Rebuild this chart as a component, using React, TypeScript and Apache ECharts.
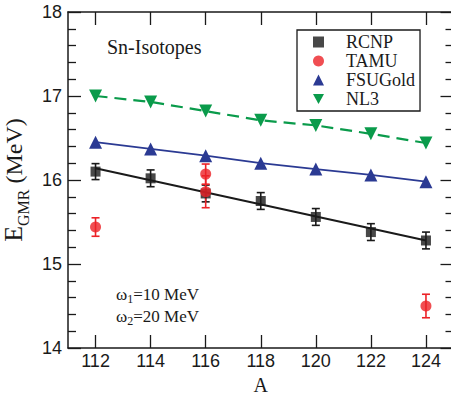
import React, { useEffect, useRef } from "react";
import * as echarts from "echarts";

const massNumbers = [112, 114, 116, 118, 120, 122, 124];
const rcnp = [16.1, 16.02, 15.84, 15.75, 15.56, 15.38, 15.28];
const rcnpErr = [0.095, 0.1, 0.1, 0.1, 0.1, 0.1, 0.1];
const rcnpFitA = [112, 124];
const rcnpFit = [16.14, 15.28];
const tamuA = [112, 116, 116, 124];
const tamu = [15.44, 16.07, 15.86, 14.5];
const tamuErr = [0.11, 0.12, 0.19, 0.14];
const fsuGold = [16.45, 16.37, 16.29, 16.2, 16.13, 16.06, 15.98];
const nl3 = [17.0, 16.93, 16.82, 16.71, 16.65, 16.55, 16.44];
const xTicks = [112, 114, 116, 118, 120, 122, 124];

const SERIF = "Liberation Serif";
const SANS = "Liberation Sans";
const BLACK = "#1a1a1a";
const RED = "#ec2227";
const BLUE = "#2b3a93";
const GREEN = "#0a9b4b";

function errorBarSeries(xs: number[], ys: number[], es: number[], color: string) {
  return {
    type: "custom",
    z: 1,
    silent: true,
    data: xs.map((x, i) => [x, ys[i], es[i]]),
    renderItem: (_p: any, api: any) => {
      const x = api.value(0);
      const y = api.value(1);
      const e = api.value(2);
      const t = api.coord([x, y + e]);
      const b = api.coord([x, y - e]);
      const hw = 4;
      const style = { stroke: color, lineWidth: 1.6 };
      return {
        type: "group",
        children: [
          { type: "line", shape: { x1: t[0], y1: t[1], x2: b[0], y2: b[1] }, style },
          { type: "line", shape: { x1: t[0] - hw, y1: t[1], x2: t[0] + hw, y2: t[1] }, style },
          { type: "line", shape: { x1: b[0] - hw, y1: b[1], x2: b[0] + hw, y2: b[1] }, style },
        ],
      };
    },
  };
}

export default function App() {
  const ref = useRef<HTMLDivElement>(null);
  useEffect(() => {
    if (!ref.current) return;
    const chart = echarts.init(ref.current, undefined, { renderer: "svg" });
    const axisLine = { show: true, lineStyle: { color: BLACK, width: 1.5 } };
    const tickStyle = { color: BLACK, width: 1.3 };
    const xBase = {
      type: "value",
      min: 111,
      max: 125,
      splitLine: { show: false },
      axisLine,
    };
    const yBase = {
      type: "value",
      min: 14,
      max: 18,
      interval: 1,
      splitLine: { show: false },
      axisLine,
      axisTick: { show: true, inside: true, length: 13, lineStyle: tickStyle },
      minorTick: { show: true, splitNumber: 5, length: 8, lineStyle: tickStyle },
    };
    chart.setOption({
      animation: false,
      backgroundColor: "#fff",
      grid: { left: 68, top: 12, right: 1.5, bottom: 46, containLabel: false, outerBoundsMode: "none" },
      legend: {
        orient: "vertical",
        left: 297,
        top: 30,
        padding: [3, 5, 3, 16],
        itemGap: 1,
        itemWidth: 11,
        itemHeight: 11,
        borderColor: BLACK,
        borderWidth: 1.3,
        formatter: "{t|{name}}",
        textStyle: {
          fontFamily: SERIF,
          fontSize: 18,
          lineHeight: 17,
          color: BLACK,
          rich: { t: { fontFamily: SERIF, fontSize: 18, lineHeight: 17, color: BLACK, padding: [0, 0, 0, 17] } },
        },
        data: [
          { name: "RCNP", icon: "rect" },
          { name: "TAMU", icon: "circle" },
          { name: "FSUGold", icon: "triangle" },
          { name: "NL3", icon: "path://M0,0 L10,0 L5,9 Z" },
        ],
      },
      xAxis: [
        {
          ...xBase,
          position: "bottom",
          name: "A",
          nameLocation: "middle",
          nameGap: 23,
          nameTextStyle: { fontFamily: SERIF, fontSize: 20, lineHeight: 16, color: BLACK },
          axisTick: { show: true, inside: true, length: 13, lineStyle: tickStyle, customValues: xTicks },
          axisLabel: { show: true, customValues: xTicks, fontFamily: SANS, fontSize: 18, color: BLACK, margin: 4 },
        },
        {
          ...xBase,
          position: "top",
          axisTick: { show: true, inside: true, length: 13, lineStyle: tickStyle, customValues: xTicks },
          axisLabel: { show: false },
        },
      ],
      yAxis: [
        {
          ...yBase,
          position: "left",
          name: "{e|E}{s|GMR}{n| (MeV)}",
          nameLocation: "middle",
          nameGap: 36,
          nameRotate: 90,
          nameTextStyle: {
            fontFamily: SERIF,
            color: BLACK,
            rich: {
              e: { fontFamily: SERIF, fontSize: 26, color: BLACK, verticalAlign: "top", lineHeight: 30 },
              s: { fontFamily: SERIF, fontSize: 16, color: BLACK, verticalAlign: "top", padding: [15, 0, 0, 0] },
              n: { fontFamily: SERIF, fontSize: 24, color: BLACK, verticalAlign: "top", padding: [2, 0, 0, 0] },
            },
          },
          axisLabel: { show: true, fontFamily: SANS, fontSize: 18, color: BLACK, margin: 6 },
        },
        {
          ...yBase,
          position: "right",
          axisLabel: { show: false },
        },
      ],
      graphic: [
        {
          type: "text",
          left: 107,
          top: 37,
          style: {
            text: "{t|Sn-Isotopes}",
            fontFamily: SERIF,
            fontSize: 20,
            fill: BLACK,
            rich: { t: { fontFamily: SERIF, fontSize: 20, fill: BLACK } },
          },
        },
        {
          type: "text",
          left: 116,
          top: 283,
          style: {
            text: "ω{s|1}=10 MeV\nω{s|2}=20 MeV",
            fontFamily: SERIF,
            fontSize: 17,
            lineHeight: 22,
            fill: BLACK,
            rich: { s: { fontFamily: SERIF, fontSize: 12, fill: BLACK, padding: [9, 0, 0, 0] } },
          },
        },
      ],
      series: [
        errorBarSeries(massNumbers, rcnp, rcnpErr, BLACK),
        errorBarSeries(tamuA, tamu, tamuErr, RED),
        {
          name: "RCNP fit",
          type: "line",
          data: rcnpFitA.map((a, i) => [a, rcnpFit[i]]),
          showSymbol: false,
          lineStyle: { color: BLACK, width: 2 },
          z: 2,
          silent: true,
        },
        {
          name: "FSUGold",
          type: "line",
          data: massNumbers.map((a, i) => [a, fsuGold[i]]),
          symbol: "triangle",
          symbolSize: 13,
          itemStyle: { color: BLUE },
          lineStyle: { color: BLUE, width: 1.8 },
          z: 3,
        },
        {
          name: "NL3",
          type: "line",
          data: massNumbers.map((a, i) => [a, nl3[i]]),
          symbol: "triangle",
          symbolRotate: 180,
          symbolSize: 13,
          itemStyle: { color: GREEN },
          lineStyle: { color: GREEN, width: 2.2, type: [12, 7] },
          z: 3,
        },
        {
          name: "RCNP",
          type: "scatter",
          data: massNumbers.map((a, i) => [a, rcnp[i]]),
          symbol: "rect",
          symbolSize: 10,
          itemStyle: { color: BLACK },
          z: 4,
        },
        {
          name: "TAMU",
          type: "scatter",
          data: tamuA.map((a, i) => [a, tamu[i]]),
          symbol: "circle",
          symbolSize: 11,
          itemStyle: { color: RED },
          z: 4,
        },
      ],
    });
    return () => chart.dispose();
  }, []);
  return (
    <div style={{ position: "fixed", left: 0, top: 0, width: 451, height: 394, overflow: "hidden", background: "#fff" }}>
      <div ref={ref} style={{ width: 455, height: 394 }} />
    </div>
  );
}
